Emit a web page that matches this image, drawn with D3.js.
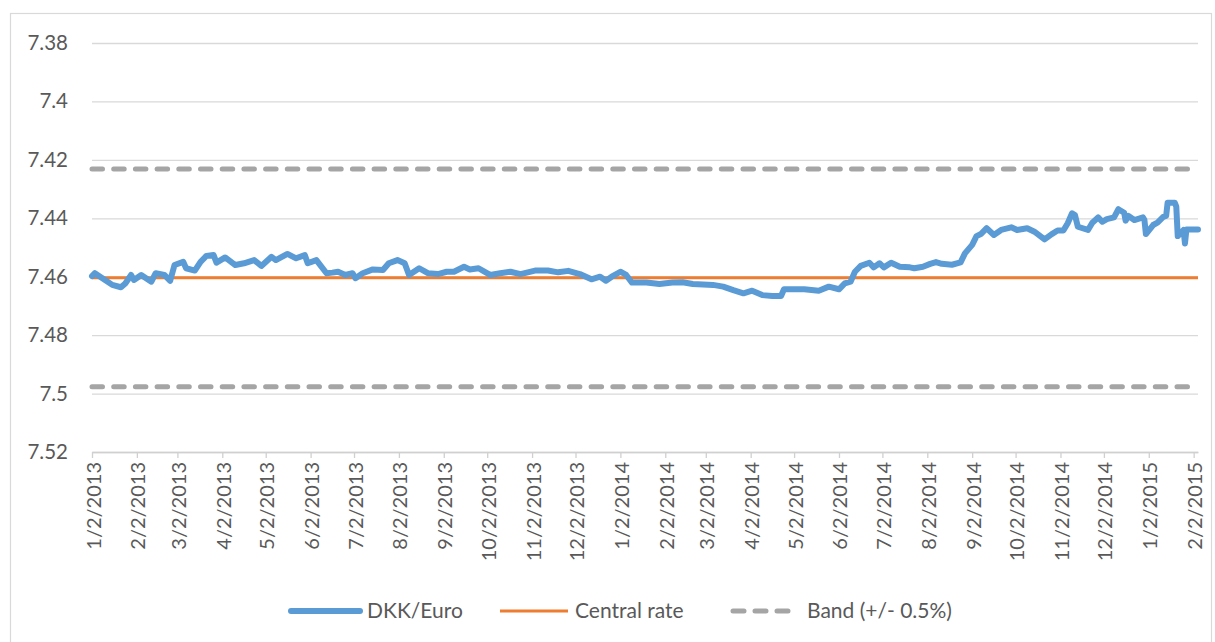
<!DOCTYPE html>
<html lang="en">

<head>
  <meta charset="utf-8">
  <script src="https://d3js.org/d3.v7.min.js"></script>
  <style>
    body { margin: 0; background: #fff; }
    text { font-family: Lato, "Open Sans", sans-serif; fill: #595959; }
  </style>
</head>

<body>
  <script>
    // DKK/Euro rate (dates are M/D/Y trading days)
    const dates = [
      "2013-01-02", "2013-01-04", "2013-01-11", "2013-01-16", "2013-01-22", "2013-01-25", "2013-01-29", "2013-01-31",
      "2013-02-05", "2013-02-12", "2013-02-15", "2013-02-21", "2013-02-25", "2013-02-28", "2013-03-06", "2013-03-08",
      "2013-03-14", "2013-03-18", "2013-03-22", "2013-03-27", "2013-03-29", "2013-04-04", "2013-04-11", "2013-04-17",
      "2013-04-24", "2013-04-29", "2013-05-06", "2013-05-09", "2013-05-17", "2013-05-23", "2013-05-29", "2013-05-31",
      "2013-06-06", "2013-06-13", "2013-06-17", "2013-06-21", "2013-06-26", "2013-07-01", "2013-07-03", "2013-07-08",
      "2013-07-15", "2013-07-22", "2013-07-26", "2013-08-01", "2013-08-06", "2013-08-09", "2013-08-16", "2013-08-22",
      "2013-08-29", "2013-09-04", "2013-09-09", "2013-09-16", "2013-09-20", "2013-09-26", "2013-10-04", "2013-10-11",
      "2013-10-18", "2013-10-25", "2013-11-04", "2013-11-13", "2013-11-20", "2013-11-27", "2013-12-05", "2013-12-13",
      "2013-12-19", "2013-12-23", "2013-12-27", "2014-01-02", "2014-01-06", "2014-01-10", "2014-01-20", "2014-01-29",
      "2014-02-07", "2014-02-14", "2014-02-21", "2014-03-07", "2014-03-14", "2014-03-21", "2014-03-28", "2014-04-03",
      "2014-04-10", "2014-04-17", "2014-04-23", "2014-04-25", "2014-05-01", "2014-05-09", "2014-05-19", "2014-05-26",
      "2014-06-02", "2014-06-06", "2014-06-10", "2014-06-13", "2014-06-17", "2014-06-23", "2014-06-26", "2014-06-30",
      "2014-07-03", "2014-07-08", "2014-07-14", "2014-07-21", "2014-07-24", "2014-07-30", "2014-08-04", "2014-08-08",
      "2014-08-12", "2014-08-19", "2014-08-25", "2014-08-28", "2014-09-02", "2014-09-05", "2014-09-08", "2014-09-12",
      "2014-09-17", "2014-09-22", "2014-09-29", "2014-10-03", "2014-10-10", "2014-10-15", "2014-10-22", "2014-10-27",
      "2014-10-31", "2014-11-04", "2014-11-07", "2014-11-10", "2014-11-12", "2014-11-14", "2014-11-21", "2014-11-24",
      "2014-11-28", "2014-12-01", "2014-12-04", "2014-12-09", "2014-12-12", "2014-12-16", "2014-12-17", "2014-12-19",
      "2014-12-23", "2014-12-29", "2014-12-30", "2014-12-31", "2015-01-05", "2015-01-08", "2015-01-12", "2015-01-14",
      "2015-01-15", "2015-01-20", "2015-01-21", "2015-01-22", "2015-01-26", "2015-01-27", "2015-01-28", "2015-02-05"
    ];
    const dkkEuro = [
      7.4598, 7.4588, 7.4611, 7.4628, 7.4636, 7.4623, 7.4594, 7.4611,
      7.4594, 7.4617, 7.4588, 7.4594, 7.4614, 7.4560, 7.4549, 7.4571,
      7.4579, 7.4549, 7.4529, 7.4526, 7.4552, 7.4534, 7.4560, 7.4554,
      7.4543, 7.4563, 7.4532, 7.4543, 7.4522, 7.4537, 7.4526, 7.4554,
      7.4543, 7.4588, 7.4586, 7.4583, 7.4594, 7.4588, 7.4605, 7.4588,
      7.4575, 7.4577, 7.4554, 7.4543, 7.4554, 7.4594, 7.4571, 7.4588,
      7.4591, 7.4583, 7.4583, 7.4566, 7.4575, 7.4571, 7.4594, 7.4588,
      7.4583, 7.4591, 7.4579, 7.4579, 7.4585, 7.4580, 7.4591, 7.4609,
      7.4600, 7.4614, 7.4600, 7.4583, 7.4594, 7.4620, 7.4620, 7.4625,
      7.4620, 7.4619, 7.4625, 7.4628, 7.4634, 7.4646, 7.4657, 7.4648,
      7.4663, 7.4666, 7.4666, 7.4643, 7.4643, 7.4643, 7.4648, 7.4634,
      7.4643, 7.4623, 7.4617, 7.4583, 7.4563, 7.4552, 7.4568, 7.4554,
      7.4568, 7.4552, 7.4566, 7.4568, 7.4571, 7.4566, 7.4556, 7.4550,
      7.4556, 7.4559, 7.4551, 7.4520, 7.4491, 7.4461, 7.4454, 7.4434,
      7.4457, 7.4440, 7.4431, 7.4440, 7.4434, 7.4446, 7.4472, 7.4454,
      7.4442, 7.4442, 7.4417, 7.4383, 7.4389, 7.4429, 7.4440, 7.4415,
      7.4397, 7.4412, 7.4403, 7.4397, 7.4369, 7.4381, 7.4408, 7.4392,
      7.4406, 7.4397, 7.4406, 7.4454, 7.4423, 7.4415, 7.4395, 7.4392,
      7.4347, 7.4347, 7.4360, 7.4461, 7.4440, 7.4486, 7.4438, 7.4438
    ];
    const centralRate = 7.46038;
    const bandUpper = 7.4231;
    const bandLower = 7.4977;

    const xTickLabels = [
      "1/2/2013", "2/2/2013", "3/2/2013", "4/2/2013", "5/2/2013", "6/2/2013", "7/2/2013", "8/2/2013", "9/2/2013",
      "10/2/2013", "11/2/2013", "12/2/2013", "1/2/2014", "2/2/2014", "3/2/2014", "4/2/2014", "5/2/2014", "6/2/2014",
      "7/2/2014", "8/2/2014", "9/2/2014", "10/2/2014", "11/2/2014", "12/2/2014", "1/2/2015", "2/2/2015"
    ];
    const yTickValues = [7.38, 7.4, 7.42, 7.44, 7.46, 7.48, 7.5, 7.52];
    const seriesNames = ["DKK/Euro", "Central rate", "Band (+/- 0.5%)"];

    const W = 1215, H = 642;
    const plotLeft = 92, plotRight = 1198, plotTop = 43, plotBottom = 452;

    const parseDate = d3.timeParse("%Y-%m-%d");
    const parseTick = d3.timeParse("%-m/%-d/%Y");
    const rows = dates.map((d, i) => ({ date: parseDate(d), value: dkkEuro[i] }));
    const tickDates = xTickLabels.map(parseTick);

    const x = d3.scaleTime()
      .domain([parseDate("2013-01-02"), parseDate("2015-02-05")])
      .range([plotLeft, plotRight]);
    // axis reversed: small values on top
    const y = d3.scaleLinear()
      .domain([7.38, 7.52])
      .range([plotTop, plotBottom]);

    const svg = d3.select("body").append("svg")
      .attr("width", W).attr("height", H);

    svg.append("rect")
      .attr("x", 10.5).attr("y", 13.5)
      .attr("width", 1201).attr("height", 640)
      .attr("fill", "#fff").attr("stroke", "#d9d9d9").attr("stroke-width", 1.2);

    // gridlines + y labels
    const yAxis = d3.axisLeft(y)
      .tickValues(yTickValues)
      .tickSize(-(plotRight - plotLeft))
      .tickPadding(24)
      .tickFormat(d => String(d));
    svg.append("g")
      .attr("class", "yaxis")
      .attr("transform", "translate(" + plotLeft + ",0)")
      .call(yAxis)
      .call(g => g.select(".domain").remove())
      .call(g => g.selectAll("line").attr("stroke", "#d9d9d9").attr("stroke-width", 1.3))
      .call(g => g.selectAll("text")
        .style("font-size", "20.5px").attr("fill", "#595959"));

    // x axis, ticks every month
    const xAxis = d3.axisBottom(x)
      .tickValues(tickDates)
      .tickSize(6)
      .tickSizeOuter(0)
      .tickFormat((d, i) => xTickLabels[i]);
    const xg = svg.append("g")
      .attr("class", "xaxis")
      .attr("transform", "translate(0," + plotBottom + ")")
      .call(xAxis);
    xg.select(".domain").attr("stroke", "#d0d0d0").attr("stroke-width", 1.3);
    xg.selectAll("line").attr("stroke", "#d0d0d0").attr("stroke-width", 1.3);
    xg.selectAll("text")
      .style("font-size", "20px")
      .attr("fill", "#595959")
      .attr("text-anchor", "end")
      .attr("transform", "translate(1,10) rotate(-90)")
      .attr("x", 0).attr("y", 0).attr("dy", "0.35em");

    // band lines
    const flat = v => d3.line()
      .x(d => x(d))
      .y(() => y(v));
    const ends = [x.domain()[0], x.domain()[1]];
    [bandUpper, bandLower].forEach(v => {
      svg.append("path")
        .datum(ends)
        .attr("d", flat(v))
        .attr("fill", "none")
        .attr("stroke", "#a5a5a5")
        .attr("stroke-width", 5)
        .attr("stroke-linecap", "round")
        .attr("stroke-dasharray", "10.5,11.2");
    });

    // central rate
    svg.append("path")
      .datum(ends)
      .attr("d", flat(centralRate))
      .attr("fill", "none")
      .attr("stroke", "#ed7d31")
      .attr("stroke-width", 3);

    // DKK/Euro
    svg.append("path")
      .datum(rows)
      .attr("d", d3.line().x(d => x(d.date)).y(d => y(d.value)))
      .attr("fill", "none")
      .attr("stroke", "#5b9bd5")
      .attr("stroke-width", 6)
      .attr("stroke-linejoin", "round")
      .attr("stroke-linecap", "round");

    // legend
    const legendY = 611;
    const legend = [
      { name: seriesNames[0], x0: 291, x1: 360, color: "#5b9bd5", w: 6, dash: null },
      { name: seriesNames[1], x0: 500, x1: 568, color: "#ed7d31", w: 3, dash: null },
      { name: seriesNames[2], x0: 733, x1: 790, color: "#a5a5a5", w: 5, dash: "11,11" }
    ];
    legend.forEach(l => {
      svg.append("line")
        .attr("x1", l.x0).attr("x2", l.x1)
        .attr("y1", legendY).attr("y2", legendY)
        .attr("stroke", l.color)
        .attr("stroke-width", l.w)
        .attr("stroke-linecap", l.color == "#ed7d31" ? "butt" : "round")
        .attr("stroke-dasharray", l.dash);
      svg.append("text")
        .attr("x", l.x1 + (l.dash ? 17 : 7))
        .attr("y", legendY)
        .attr("dy", "0.35em")
        .style("font-size", "21px")
        .text(l.name);
    });
  </script>
</body>

</html>
